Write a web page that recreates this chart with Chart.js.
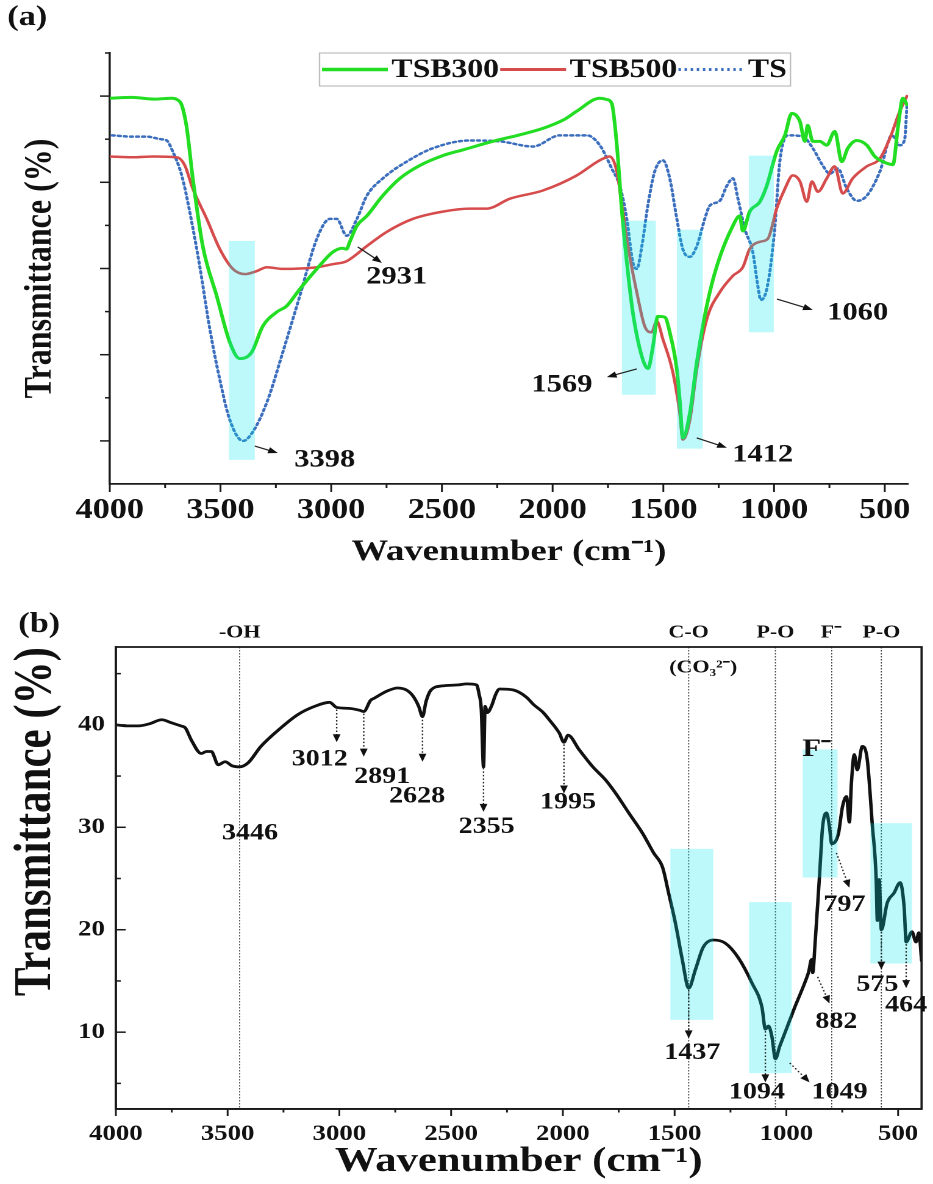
<!DOCTYPE html>
<html>
<head>
<meta charset="utf-8">
<script src="https://cdn.jsdelivr.net/npm/chart.js@4.4.1/dist/chart.umd.min.js"></script>
<style>
  body { margin: 0; background: #fff; }
  canvas { position: absolute; left: 0; }
</style>
</head>
<body>
<!-- drawn at 765 logical px wide and stretched to 933 px, like the original figure -->
<canvas id="spectraA" width="765" height="580" style="top:0;width:933px;height:580px"></canvas>
<canvas id="spectraB" width="765" height="604" style="top:580px;width:933px;height:604px"></canvas>
<script>
// ---- (a) FTIR spectra, transmittance in arbitrary units ----
const wnTSB300 = [4000, 3900, 3800, 3720, 3697, 3675, 3652, 3625, 3580, 3517, 3458, 3413, 3360, 3309, 3246, 3201, 3142, 3065, 2993, 2950,
  2931, 2916, 2884, 2839, 2767, 2690, 2600, 2496, 2400, 2270, 2150, 2044, 1950, 1891, 1787, 1755, 1733, 1710, 1687, 1665,
  1638, 1597, 1569, 1547, 1525, 1493, 1471, 1439, 1425, 1412, 1380, 1349, 1304, 1258, 1186, 1155, 1141, 1110, 1064, 1033,
  988, 951, 920, 883, 861, 848, 825, 793, 762, 726, 694, 667, 626, 581, 545, 509, 463, 441, 418, 400];
const trTSB300 = [8.95, 8.97, 8.93, 8.95, 8.92, 8.79, 8.25, 7.09, 5.52, 4.36, 3.29, 2.91, 3.05, 3.66, 3.99, 4.13, 4.52, 4.99, 5.38, 5.47,
  5.45, 5.62, 5.99, 6.22, 6.69, 7.09, 7.39, 7.62, 7.76, 7.95, 8.10, 8.25, 8.45, 8.65, 8.95, 8.92, 8.83, 7.86, 6.32, 5.15,
  3.99, 2.96, 2.68, 3.19, 3.89, 3.87, 3.52, 2.66, 1.90, 1.07, 1.65, 2.82, 4.13, 5.06, 5.99, 6.22, 5.87, 6.32, 6.55, 6.92,
  7.72, 8.09, 8.60, 8.41, 7.95, 8.32, 7.95, 7.95, 7.86, 8.18, 7.48, 7.79, 7.97, 7.86, 7.60, 7.48, 7.41, 8.25, 8.95, 8.80];

const wnTSB500 = [4000, 3900, 3800, 3697, 3661, 3625, 3562, 3503, 3444, 3390, 3336, 3291, 3219, 3140, 3065, 2993, 2930, 2839, 2749, 2632,
  2496, 2374, 2297, 2193, 2044, 1891, 1787, 1742, 1710, 1683, 1652, 1620, 1584, 1553, 1530, 1502, 1457, 1426, 1412, 1380,
  1349, 1304, 1245, 1186, 1141, 1110, 1064, 1028, 988, 951, 915, 883, 852, 829, 802, 762, 726, 690, 645, 581,
  522, 477, 432, 400];
const trTSB500 = [7.60, 7.58, 7.60, 7.58, 7.39, 6.85, 6.15, 5.45, 4.99, 4.87, 4.94, 5.03, 4.99, 5.00, 5.03, 5.10, 5.17, 5.52, 5.85, 6.15,
  6.32, 6.39, 6.39, 6.62, 6.81, 7.16, 7.51, 7.60, 7.25, 6.32, 5.29, 4.45, 3.66, 3.52, 3.78, 3.36, 2.59, 1.65, 1.03, 1.49,
  2.66, 3.82, 4.45, 4.83, 5.03, 5.45, 5.62, 5.69, 6.39, 6.85, 7.16, 7.02, 6.55, 7.02, 6.78, 7.09, 7.37, 6.74, 7.09, 7.37,
  7.55, 8.02, 8.65, 9.00];

const wnTS = [3990, 3900, 3833, 3770, 3743, 3716, 3675, 3639, 3594, 3548, 3503, 3458, 3398, 3354, 3291, 3219, 3142, 3065, 3006, 2975,
  2930, 2884, 2839, 2767, 2659, 2541, 2374, 2238, 2089, 1967, 1846, 1787, 1733, 1697, 1665, 1638, 1620, 1597, 1570, 1539,
  1502, 1471, 1439, 1412, 1380, 1349, 1313, 1290, 1245, 1213, 1186, 1163, 1132, 1096, 1073, 1060, 1030, 997, 974, 937,
  870, 825, 780, 748, 712, 671, 626, 581, 522, 468, 432, 410, 400];
const trTS = [8.09, 8.06, 8.06, 8.00, 7.97, 7.72, 7.16, 6.32, 5.06, 3.59, 2.42, 1.49, 1.00, 1.21, 1.89, 3.05, 4.36, 5.69, 6.15, 6.15,
  5.76, 6.15, 6.69, 7.09, 7.48, 7.79, 7.97, 7.95, 7.83, 8.09, 8.09, 7.86, 7.32, 6.92, 6.15, 5.15, 4.99, 5.52, 6.46, 7.25,
  7.51, 7.09, 6.15, 5.45, 5.27, 5.52, 6.15, 6.46, 6.57, 6.92, 7.09, 6.62, 5.92, 5.38, 4.59, 4.27, 4.59, 5.92, 7.48, 8.09,
  8.06, 7.79, 7.39, 7.20, 7.32, 6.85, 6.57, 6.69, 7.25, 8.09, 7.86, 8.00, 8.76];

// ---- (b) FTIR spectrum, transmittance (%) ----
const wnB = [4000, 3950, 3898, 3850, 3795, 3751, 3710, 3689, 3662, 3618, 3595, 3573, 3542, 3511, 3480, 3446, 3408, 3351, 3262, 3186,
  3111, 3044, 3012, 2951, 2906, 2891, 2860, 2844, 2786, 2740, 2700, 2670, 2645, 2628, 2612, 2590, 2540, 2466, 2430, 2386,
  2375, 2365, 2355, 2348, 2338, 2320, 2300, 2283, 2221, 2163, 2132, 2088, 2061, 2016, 1995, 1977, 1928, 1866, 1808, 1763,
  1705, 1643, 1594, 1554, 1527, 1496, 1465, 1437, 1407, 1372, 1327, 1274, 1216, 1154, 1109, 1094, 1080, 1065, 1049, 1030,
  1007, 963, 918, 900, 887, 882, 872, 851, 838, 820, 807, 797, 767, 749, 731, 718, 709, 696, 683, 660,
  638, 616, 598, 593, 585, 575, 549, 518, 491, 473, 464, 438, 420, 407, 395];
const trB = [40.0, 39.9, 39.9, 40.1, 40.5, 40.2, 39.9, 39.7, 38.5, 37.2, 37.4, 37.4, 36.1, 36.4, 36.0, 35.9, 36.3, 37.9, 39.7, 41.0,
  41.8, 42.2, 41.7, 41.6, 41.4, 41.3, 42.4, 42.6, 43.3, 43.6, 43.4, 42.8, 41.8, 40.8, 42.3, 43.4, 43.8, 43.9, 44.0, 43.9,
  43.0, 41.5, 35.9, 41.8, 41.2, 41.8, 43.0, 43.5, 43.4, 42.7, 42.0, 41.2, 40.5, 39.2, 38.3, 39.0, 37.6, 35.9, 34.6, 33.3,
  31.4, 29.4, 27.5, 26.1, 23.6, 20.6, 17.0, 14.3, 16.1, 18.3, 19.0, 18.7, 17.3, 14.8, 12.4, 10.3, 10.6, 9.6, 7.4, 8.6,
  9.9, 12.4, 14.8, 15.9, 17.1, 15.8, 18.5, 25.5, 30.0, 31.4, 30.0, 28.4, 29.4, 32.0, 33.0, 30.5, 34.3, 37.1, 35.6, 37.9,
  36.6, 30.4, 24.9, 20.9, 24.9, 20.0, 22.6, 23.6, 24.6, 22.2, 18.8, 19.8, 18.8, 19.7, 17.0];

const xMajor = [4000, 3500, 3000, 2500, 2000, 1500, 1000, 500];
const xMinor = [3750, 3250, 2750, 2250, 1750, 1250, 750];
const yMajorA = [1, 3, 5, 7, 9];
const yMinorA = [2, 4, 6, 8, 10];
const yMajorB = [10, 20, 30, 40];
const yMinorB = [5, 15, 25, 35, 45];

// peak positions that get labelled
const peaksA = [3398, 2931, 1569, 1412, 1060];
const peaksB = [3446, 3012, 2891, 2628, 2355, 1995, 1437, 1094, 1049, 882, 797, 575, 464];

const serif = "'Liberation Serif', 'Times New Roman', serif";
const bold = size => ({family: serif, size: size, weight: 'bold'});
const boldCss = size => `bold ${size}px ${serif}`;
const pts = (xs, ys) => xs.map((x, i) => ({x: x, y: ys[i]}));

function head(ctx, x0, y0, x1, y1) {
  const a = Math.atan2(y1 - y0, x1 - x0), len = 8, half = 3.2;
  const bx = x1 - len * Math.cos(a), by = y1 - len * Math.sin(a);
  ctx.beginPath();
  ctx.moveTo(x1, y1);
  ctx.lineTo(bx + half * Math.sin(a), by - half * Math.cos(a));
  ctx.lineTo(bx - half * Math.sin(a), by + half * Math.cos(a));
  ctx.closePath();
  ctx.fill();
}

// bands, guide lines, minor/major ticks, peak notes and the legend box
function decor(cfg) {
  return {
    id: 'decor',
    beforeDatasetsDraw(chart) {
      const {ctx, chartArea: a, scales: {x}} = chart;
      ctx.save();
      ctx.strokeStyle = '#444';
      ctx.lineWidth = 0.9;
      ctx.setLineDash([1.5, 1.5]);
      (cfg.guides || []).forEach(wn => {
        const px = x.getPixelForValue(wn);
        ctx.beginPath(); ctx.moveTo(px, a.top); ctx.lineTo(px, a.bottom); ctx.stroke();
      });
      ctx.restore();
    },
    afterDatasetsDraw(chart) {
      const {ctx, scales: {x, y}} = chart;
      ctx.save();
      ctx.fillStyle = 'rgba(0, 232, 235, 0.26)';
      cfg.bands.forEach(([x0, x1, y0, y1]) => {
        const l = x.getPixelForValue(x0), r = x.getPixelForValue(x1);
        const t = y.getPixelForValue(y1), b = y.getPixelForValue(y0);
        ctx.fillRect(l, t, r - l, b - t);
      });
      ctx.restore();
    },
    afterDraw(chart) {
      const {ctx, chartArea: a, scales: {x, y}} = chart;
      ctx.save();
      ctx.strokeStyle = '#1a1a1a';
      ctx.lineWidth = 1.5;

      const tickMarks = (scale, spec) => {
        const horiz = scale.isHorizontal();
        const base = horiz ? a.bottom : a.left;
        const sign = (horiz ? 1 : -1) * (spec.inward ? -1 : 1);
        const mark = (v, len) => {
          const p = scale.getPixelForValue(v);
          ctx.beginPath();
          if (horiz) { ctx.moveTo(p, base); ctx.lineTo(p, base + sign * len); }
          else { ctx.moveTo(base, p); ctx.lineTo(base + sign * len, p); }
          ctx.stroke();
        };
        scale.ticks.forEach(t => mark(t.value, spec.len));
        spec.minor.forEach(v => mark(v, spec.len / 2));
      };
      tickMarks(x, cfg.xTicks);
      tickMarks(y, cfg.yTicks);

      if (cfg.frame) {
        ctx.lineWidth = 1.8;
        ctx.strokeRect(a.left, a.top, a.right - a.left, a.bottom - a.top);
      }

      ctx.fillStyle = '#111';
      ctx.textAlign = 'center';
      ctx.textBaseline = 'middle';

      // peak labels with their arrows
      cfg.notes.forEach(n => {
        ctx.font = boldCss(n.size || cfg.noteSize);
        ctx.fillText(n.text || String(n.peak), x.getPixelForValue(n.at[0]), y.getPixelForValue(n.at[1]));
        if (!n.arrow) return;
        const [[fx, fy], [tx, ty]] = n.arrow;
        const x0 = x.getPixelForValue(fx), y0 = y.getPixelForValue(fy);
        const x1 = x.getPixelForValue(tx), y1 = y.getPixelForValue(ty);
        const d = Math.hypot(x1 - x0, y1 - y0);
        ctx.save();
        ctx.strokeStyle = '#222';
        ctx.lineWidth = 1.2;
        ctx.setLineDash(cfg.dottedArrows ? [1.5, 2] : []);
        ctx.beginPath();
        ctx.moveTo(x0, y0);
        ctx.lineTo(x1 - (x1 - x0) * 6 / d, y1 - (y1 - y0) * 6 / d);
        ctx.stroke();
        ctx.restore();
        head(ctx, x0, y0, x1, y1);
      });

      // group names along the top of the frame
      ctx.font = boldCss(18);
      (cfg.headers || []).forEach(h => {
        ctx.fillText(h.text, x.getPixelForValue(h.wn), a.top + h.dy);
      });

      // panel tag
      ctx.textAlign = 'left';
      ctx.font = boldCss(28);
      ctx.fillText(cfg.tag.text, cfg.tag.x, cfg.tag.y);

      if (cfg.legend) {
        const lg = cfg.legend;
        const sets = chart.data.datasets;
        ctx.font = boldCss(lg.size);
        let w = 4;
        sets.forEach(d => { w += lg.sample + 3 + ctx.measureText(d.label).width + 1; });
        let px = a.left + lg.dx;
        const cy = lg.top + lg.h / 2;
        ctx.strokeStyle = '#bdbdbd';
        ctx.lineWidth = 1.2;
        ctx.strokeRect(px, lg.top, w, lg.h);
        px += 2;
        sets.forEach(d => {
          ctx.save();
          ctx.strokeStyle = d.borderColor;
          ctx.lineWidth = d.borderWidth + 0.4;
          ctx.setLineDash(d.borderDash || []);
          ctx.beginPath(); ctx.moveTo(px, cy); ctx.lineTo(px + lg.sample, cy); ctx.stroke();
          ctx.restore();
          px += lg.sample + 3;
          ctx.fillText(d.label, px, cy + 1);
          px += ctx.measureText(d.label).width + 1;
        });
      }
      ctx.restore();
    }
  };
}

function xAxis(labelSize, titleSize, height, pad, titlePad) {
  return {
    type: 'linear', reverse: true, min: 395, max: 4000,
    afterBuildTicks: s => { s.ticks = xMajor.map(value => ({value})); },
    afterFit: s => { s.height = height; },
    grid: {display: false, drawTicks: false},
    border: {display: true, color: '#1a1a1a', width: 1.8},
    ticks: {color: '#111', font: bold(labelSize), padding: pad, maxRotation: 0, autoSkip: false, callback: v => String(v)},
    title: {display: true, text: 'Wavenumber (cm⁻¹)', color: '#111', font: bold(titleSize), padding: {top: 0, bottom: titlePad}}
  };
}

const common = {
  responsive: false,
  animation: false,
  devicePixelRatio: 2,
  elements: {point: {radius: 0}, line: {cubicInterpolationMode: 'monotone', borderCapStyle: 'round'}},
  plugins: {legend: {display: false}, tooltip: {enabled: false}}
};

new Chart(document.getElementById('spectraA'), {
  type: 'line',
  data: {
    datasets: [
      {label: 'TSB300', data: pts(wnTSB300, trTSB300), borderColor: '#22dd22', borderWidth: 3},
      {label: 'TSB500', data: pts(wnTSB500, trTSB500), borderColor: '#d64b4b', borderWidth: 2.5},
      {label: 'TS', data: pts(wnTS, trTS), borderColor: '#3c6ebe', borderWidth: 2.5, borderDash: [2, 3]}
    ]
  },
  options: Object.assign({}, common, {
    layout: {padding: {left: 0, top: 53, right: 20.5, bottom: 0}},
    scales: {
      x: xAxis(28, 30, 96, 10, 10),
      y: {
        min: 0, max: 10,
        afterBuildTicks: s => { s.ticks = yMajorA.map(value => ({value})); },
        afterFit: s => { s.width = 90; },
        grid: {display: false, drawTicks: false},
        border: {display: true, color: '#1a1a1a', width: 1.8},
        ticks: {display: false},
        title: {display: true, text: 'Transmittance (%)', color: '#111', font: bold(32), padding: {top: 14, bottom: 0}}
      }
    }
  }),
  plugins: [decor({
    tag: {text: '(a)', x: 6, y: 18},
    noteSize: 25,
    xTicks: {len: 8, minor: xMinor},
    yTicks: {len: 8, minor: yMinorA},
    bands: [[3462, 3345, 0.56, 5.64], [1687, 1534, 2.07, 6.11], [1439, 1322, 0.82, 5.9], [1114, 1001, 3.52, 7.62]],
    notes: [
      {peak: peaksA[0], at: [3029, 0.56], arrow: [[3345, 0.88], [3241, 0.72]]},
      {peak: peaksA[1], at: [2704, 4.80], arrow: [[2880, 5.50], [2771, 5.13]]},
      {peak: peaksA[2], at: [1958, 2.30], arrow: [[1620, 2.67], [1755, 2.48]]},
      {peak: peaksA[3], at: [1051, 0.67], arrow: [[1349, 1.07], [1213, 0.84]]},
      {peak: peaksA[4], at: [622, 3.97], arrow: [[987, 4.29], [825, 4.04]]}
    ],
    legend: {dx: 172, top: 53, h: 33, sample: 54, size: 26}
  })]
});

new Chart(document.getElementById('spectraB'), {
  type: 'line',
  data: {
    datasets: [{label: 'Transmittance', data: pts(wnB, trB), borderColor: '#111', borderWidth: 2.8}]
  },
  options: Object.assign({}, common, {
    layout: {padding: {left: 0, top: 67, right: 4, bottom: 0}},
    scales: {
      x: xAxis(22, 35, 75, 12, 1),
      y: {
        min: 2.5, max: 47.6,
        afterBuildTicks: s => { s.ticks = yMajorB.map(value => ({value})); },
        afterFit: s => { s.width = 95; },
        grid: {display: false, drawTicks: false},
        border: {display: true, color: '#1a1a1a', width: 1.8},
        ticks: {color: '#111', font: bold(22), padding: 9},
        title: {display: true, text: 'Transmittance (%)', color: '#111', font: bold(43), align: 'end', padding: {top: 4, bottom: 0}}
      }
    }
  }),
  plugins: [decor({
    tag: {text: '(b)', x: 15, y: 45},
    noteSize: 23,
    frame: true,
    dottedArrows: true,
    xTicks: {len: 7, minor: xMinor},
    yTicks: {len: 8, minor: yMinorB, inward: true},
    guides: [3446, 1437, 1049, 797, 575],
    bands: [[1519, 1327, 11.2, 27.9], [1167, 976, 6.0, 22.7], [927, 771, 25.1, 37.6], [624, 438, 16.7, 30.4]],
    headers: [
      {text: '-OH', wn: 3446, dy: -14},
      {text: 'C-O', wn: 1437, dy: -14},
      {text: '(CO₃²⁻)', wn: 1372, dy: 21},
      {text: 'P-O', wn: 1049, dy: -14},
      {text: 'F⁻', wn: 800, dy: -14},
      {text: 'P-O', wn: 575, dy: -14}
    ],
    notes: [
      {peak: peaksB[0], at: [3400, 29.4]},
      {peak: peaksB[1], at: [3088, 36.6], arrow: [[3012, 41.5], [3012, 38.3]]},
      {peak: peaksB[2], at: [2808, 34.9], arrow: [[2891, 41.1], [2891, 36.9]]},
      {peak: peaksB[3], at: [2652, 33.0], arrow: [[2628, 40.5], [2628, 36.4]]},
      {peak: peaksB[4], at: [2341, 30.0], arrow: [[2355, 35.8], [2355, 31.5]]},
      {peak: peaksB[5], at: [1977, 32.4], arrow: [[1995, 38.1], [1995, 33.3]]},
      {peak: peaksB[6], at: [1421, 7.95], arrow: [[1437, 14.1], [1437, 9.4]]},
      {peak: peaksB[7], at: [1132, 4.1], arrow: [[1094, 10.1], [1094, 5.1]]},
      {peak: peaksB[8], at: [762, 4.1], arrow: [[985, 7.0], [896, 5.1]]},
      {peak: peaksB[9], at: [776, 11.0], arrow: [[860, 15.4], [807, 12.8]]},
      {peak: peaksB[10], at: [740, 22.4], arrow: [[776, 27.5], [718, 24.1]]},
      {peak: peaksB[11], at: [593, 14.6], arrow: [[575, 19.8], [575, 16.1]]},
      {peak: peaksB[12], at: [464, 12.6], arrow: [[464, 18.6], [464, 14.3]]},
      {text: 'F⁻', at: [865, 37.6], size: 25}
    ]
  })]
});
</script>
</body>
</html>
